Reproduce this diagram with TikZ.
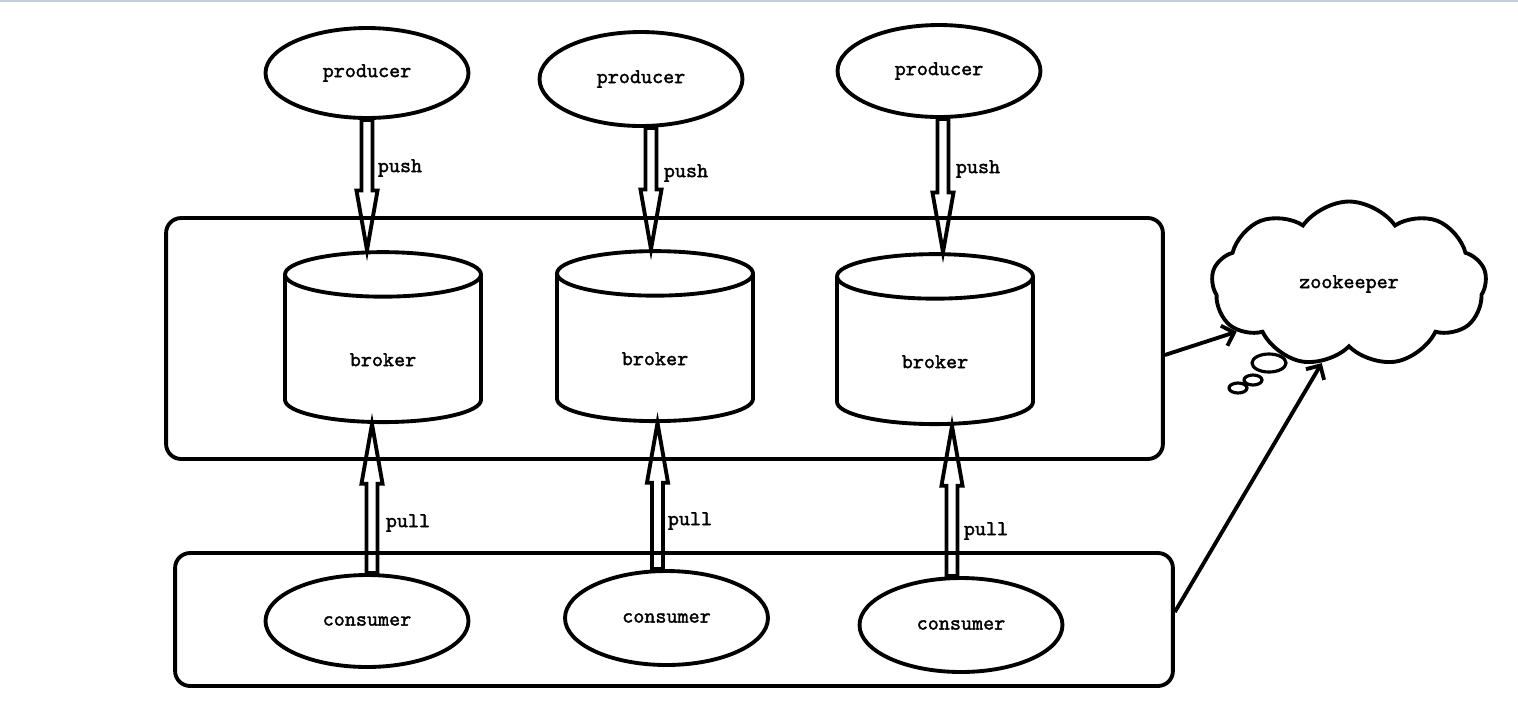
\documentclass[tikz,border=0pt]{standalone}
\usepackage{fontspec}
\newfontfamily\lblfont{lmmono10-regular}[Extension=.otf, FakeBold=1.6]
\usetikzlibrary{shapes.geometric,shapes.symbols,arrows.meta,calc}

\definecolor{topline}{RGB}{200,208,224}

\tikzset{
  every node/.style={font=\lblfont\fontsize{12}{14}\selectfont},
  box/.style={draw, line width=2.2pt, rounded corners=0.3cm},
  prod/.style={draw, ellipse, line width=2.2pt, minimum width=4.06cm, minimum height=1.84cm},
  store/.style={draw, cylinder, shape border rotate=90, aspect=0.57, line width=2.2pt,
    minimum width=3.92cm, minimum height=3.4cm, text height=15pt},
  lbl/.style={inner sep=0pt},
  hollow/.style={line width=2.2pt, line join=miter,
    to path={let \p1=(\tikztostart), \p2=(\tikztotarget), \n1={sign(\y1-\y2)} in
      (\x1-3.1pt,\y1) -- (\x1-3.1pt,\y2+\n1*34pt) -- (\x1-6pt,\y2+\n1*34pt) -- (\x1,\y2)
      -- (\x1+6pt,\y2+\n1*34pt) -- (\x1+3.1pt,\y2+\n1*34pt) -- (\x1+3.1pt,\y1) -- cycle}},
  link/.style={line width=2.2pt, -{Straight Barb[length=6pt,width=12pt]}}
}

\begin{document}
\begin{tikzpicture}[x=0.02cm, y=-0.02cm]
  \useasboundingbox (0,0) rectangle (1518,708);
  \fill[topline] (0,0) rectangle (1518,2);

  % boxes
  \node[box, minimum width=19.94cm, minimum height=4.82cm] (brokers) at (664.5,338.5) {};
  \node[box, minimum width=19.96cm, minimum height=2.66cm] (consumers) at (674,619.5) {};

  % producers
  \node[prod, minimum height=1.8cm] (p1) at (367,73) {producer};
  \node[prod, minimum height=1.88cm] (p2) at (641,79) {producer};
  \node[prod] (p3) at (939,71) {producer};

  % brokers
  \node[store] (b1) at (383,353) {broker};
  \node[store] (b2) at (655,352) {broker};
  \node[store] (b3) at (935,355) {broker};

  % consumers
  \node[prod] (c1) at (367,621) {consumer};
  \node[prod, minimum height=1.88cm] (c2) at (666.5,618) {consumer};
  \node[prod, minimum height=1.88cm] (c3) at (961,625) {consumer};

  % zookeeper
  \node[cloud, draw, line width=2.2pt, cloud puffs=9, cloud puff arc=110, aspect=1.7,
    minimum width=5.5cm, minimum height=3.3cm] (zk) at (1349,284) {zookeeper};
  \node[draw, ellipse, line width=1.8pt, inner sep=0pt, minimum width=0.68cm, minimum height=0.36cm] (t1) at (1269,363) {};
  \node[draw, ellipse, line width=1.8pt, inner sep=0pt, minimum width=0.36cm, minimum height=0.2cm] (t2) at (1253,380) {};
  \node[draw, ellipse, line width=1.8pt, inner sep=0pt, minimum width=0.36cm, minimum height=0.2cm] (t3) at (1238,388) {};

  % push / pull
  \draw[hollow] (p1.south) to (b1.north);
  \draw[hollow] ([xshift=0.2cm]p2.south) to (b2.north);
  \draw[hollow] ([xshift=0.08cm]p3.south) to (b3.north);
  \draw[hollow] ([xshift=0.1cm]c1.north) to (b1.south);
  \draw[hollow] ([xshift=-0.18cm]c2.north) to (b2.south);
  \draw[hollow] ([xshift=-0.18cm]c3.north) to (b3.south);

  \node[lbl] (push1) at (400,168) {push};
  \node[lbl] (push2) at (686,173) {push};
  \node[lbl] (push3) at (978,169) {push};
  \node[lbl] (pull1) at (408,523) {pull};
  \node[lbl] (pull2) at (690,521) {pull};
  \node[lbl] (pull3) at (986,531) {pull};

  \draw[link] ([yshift=-0.33cm]brokers.east) -- (zk.203);
  \draw[link] ([yshift=0.15cm]consumers.east) -- (zk.251);
\end{tikzpicture}
\end{document}
